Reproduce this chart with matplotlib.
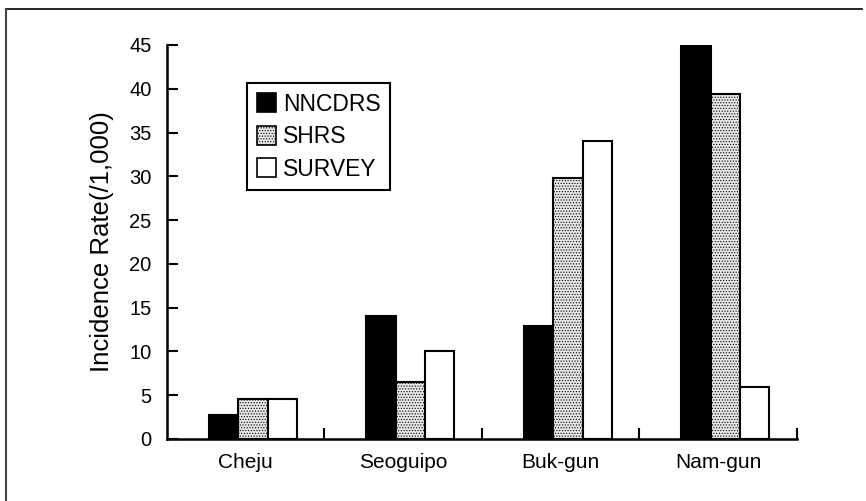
import matplotlib
matplotlib.use("Agg")
import matplotlib.pyplot as plt
import numpy as np
from matplotlib.patches import Patch
from matplotlib.lines import Line2D

plt.rcParams['font.family'] = ['Liberation Sans', 'DejaVu Sans']
plt.rcParams['hatch.linewidth'] = 0.5
plt.rcParams['hatch.color'] = '#909090'

categories = ["Cheju", "Seoguipo", "Buk-gun", "Nam-gun"]
series_names = ["NNCDRS", "SHRS", "SURVEY"]
nncdrs = [2.7, 14.0, 12.9, 45.0]
shrs = [4.6, 6.5, 29.8, 39.4]
survey = [4.6, 10.1, 34.0, 5.9]
yticks = [0, 5, 10, 15, 20, 25, 30, 35, 40, 45]

fig = plt.figure(figsize=(8.66, 5.01), dpi=100)
ax = fig.add_axes([0.1928, 0.1238, 0.7275, 0.7864])

x = np.arange(len(categories))
w = 0.187
off = 0.045
styles = [dict(facecolor='black', edgecolor='black'),
          dict(facecolor='#e6e6e6', edgecolor='black', hatch='......'),
          dict(facecolor='white', edgecolor='black')]
for i, (vals, st) in enumerate(zip([nncdrs, shrs, survey], styles)):
    ax.bar(x + off + (i - 1) * w, vals, width=w, linewidth=1.5, **st)

ax.set_xlim(-0.5, 3.5)
ax.set_ylim(0, 45)
ax.set_yticks(yticks)
ax.set_yticklabels([str(t) for t in yticks], fontsize=14.5)
ax.set_xticks(x)
ax.set_xticklabels(categories, fontsize=15)
ax.set_xticks([0.5, 1.5, 2.5, 3.5], minor=True)
ax.tick_params(axis='x', which='major', length=0, pad=10)
ax.tick_params(axis='x', which='minor', direction='in', length=8, width=1.5)
ax.tick_params(axis='y', direction='in', length=8, width=1.5, pad=11)
for s in ['top', 'right']:
    ax.spines[s].set_visible(False)
for s in ['left', 'bottom']:
    ax.spines[s].set_linewidth(1.8)
ax.set_ylabel("Incidence Rate(/1,000)", fontsize=18.5, labelpad=11)

handles = [Patch(facecolor='black', edgecolor='black', linewidth=1.2),
           Patch(facecolor='#e6e6e6', edgecolor='black', hatch='......', linewidth=1.2),
           Patch(facecolor='white', edgecolor='black', linewidth=1.2)]
leg = ax.legend(handles, series_names, loc='upper left',
                bbox_to_anchor=(247 / 866, 1 - 83 / 501), bbox_transform=fig.transFigure,
                fontsize=16.5, frameon=True, fancybox=False, framealpha=1,
                edgecolor='black', borderaxespad=0, handlelength=0.85, handleheight=0.9,
                handletextpad=0.3, labelspacing=0.42, borderpad=0.42)
leg.get_frame().set_linewidth(1.5)

# page frame (left and top edges)
fig.add_artist(Line2D([6 / 866, 862 / 866], [1 - 9 / 501, 1 - 9 / 501], transform=fig.transFigure,
                      color='black', linewidth=1.2))
fig.add_artist(Line2D([6 / 866, 6 / 866], [1 - 9 / 501, 0], transform=fig.transFigure,
                      color='#444444', linewidth=1.5))

fig.savefig("out.png", dpi=100)
